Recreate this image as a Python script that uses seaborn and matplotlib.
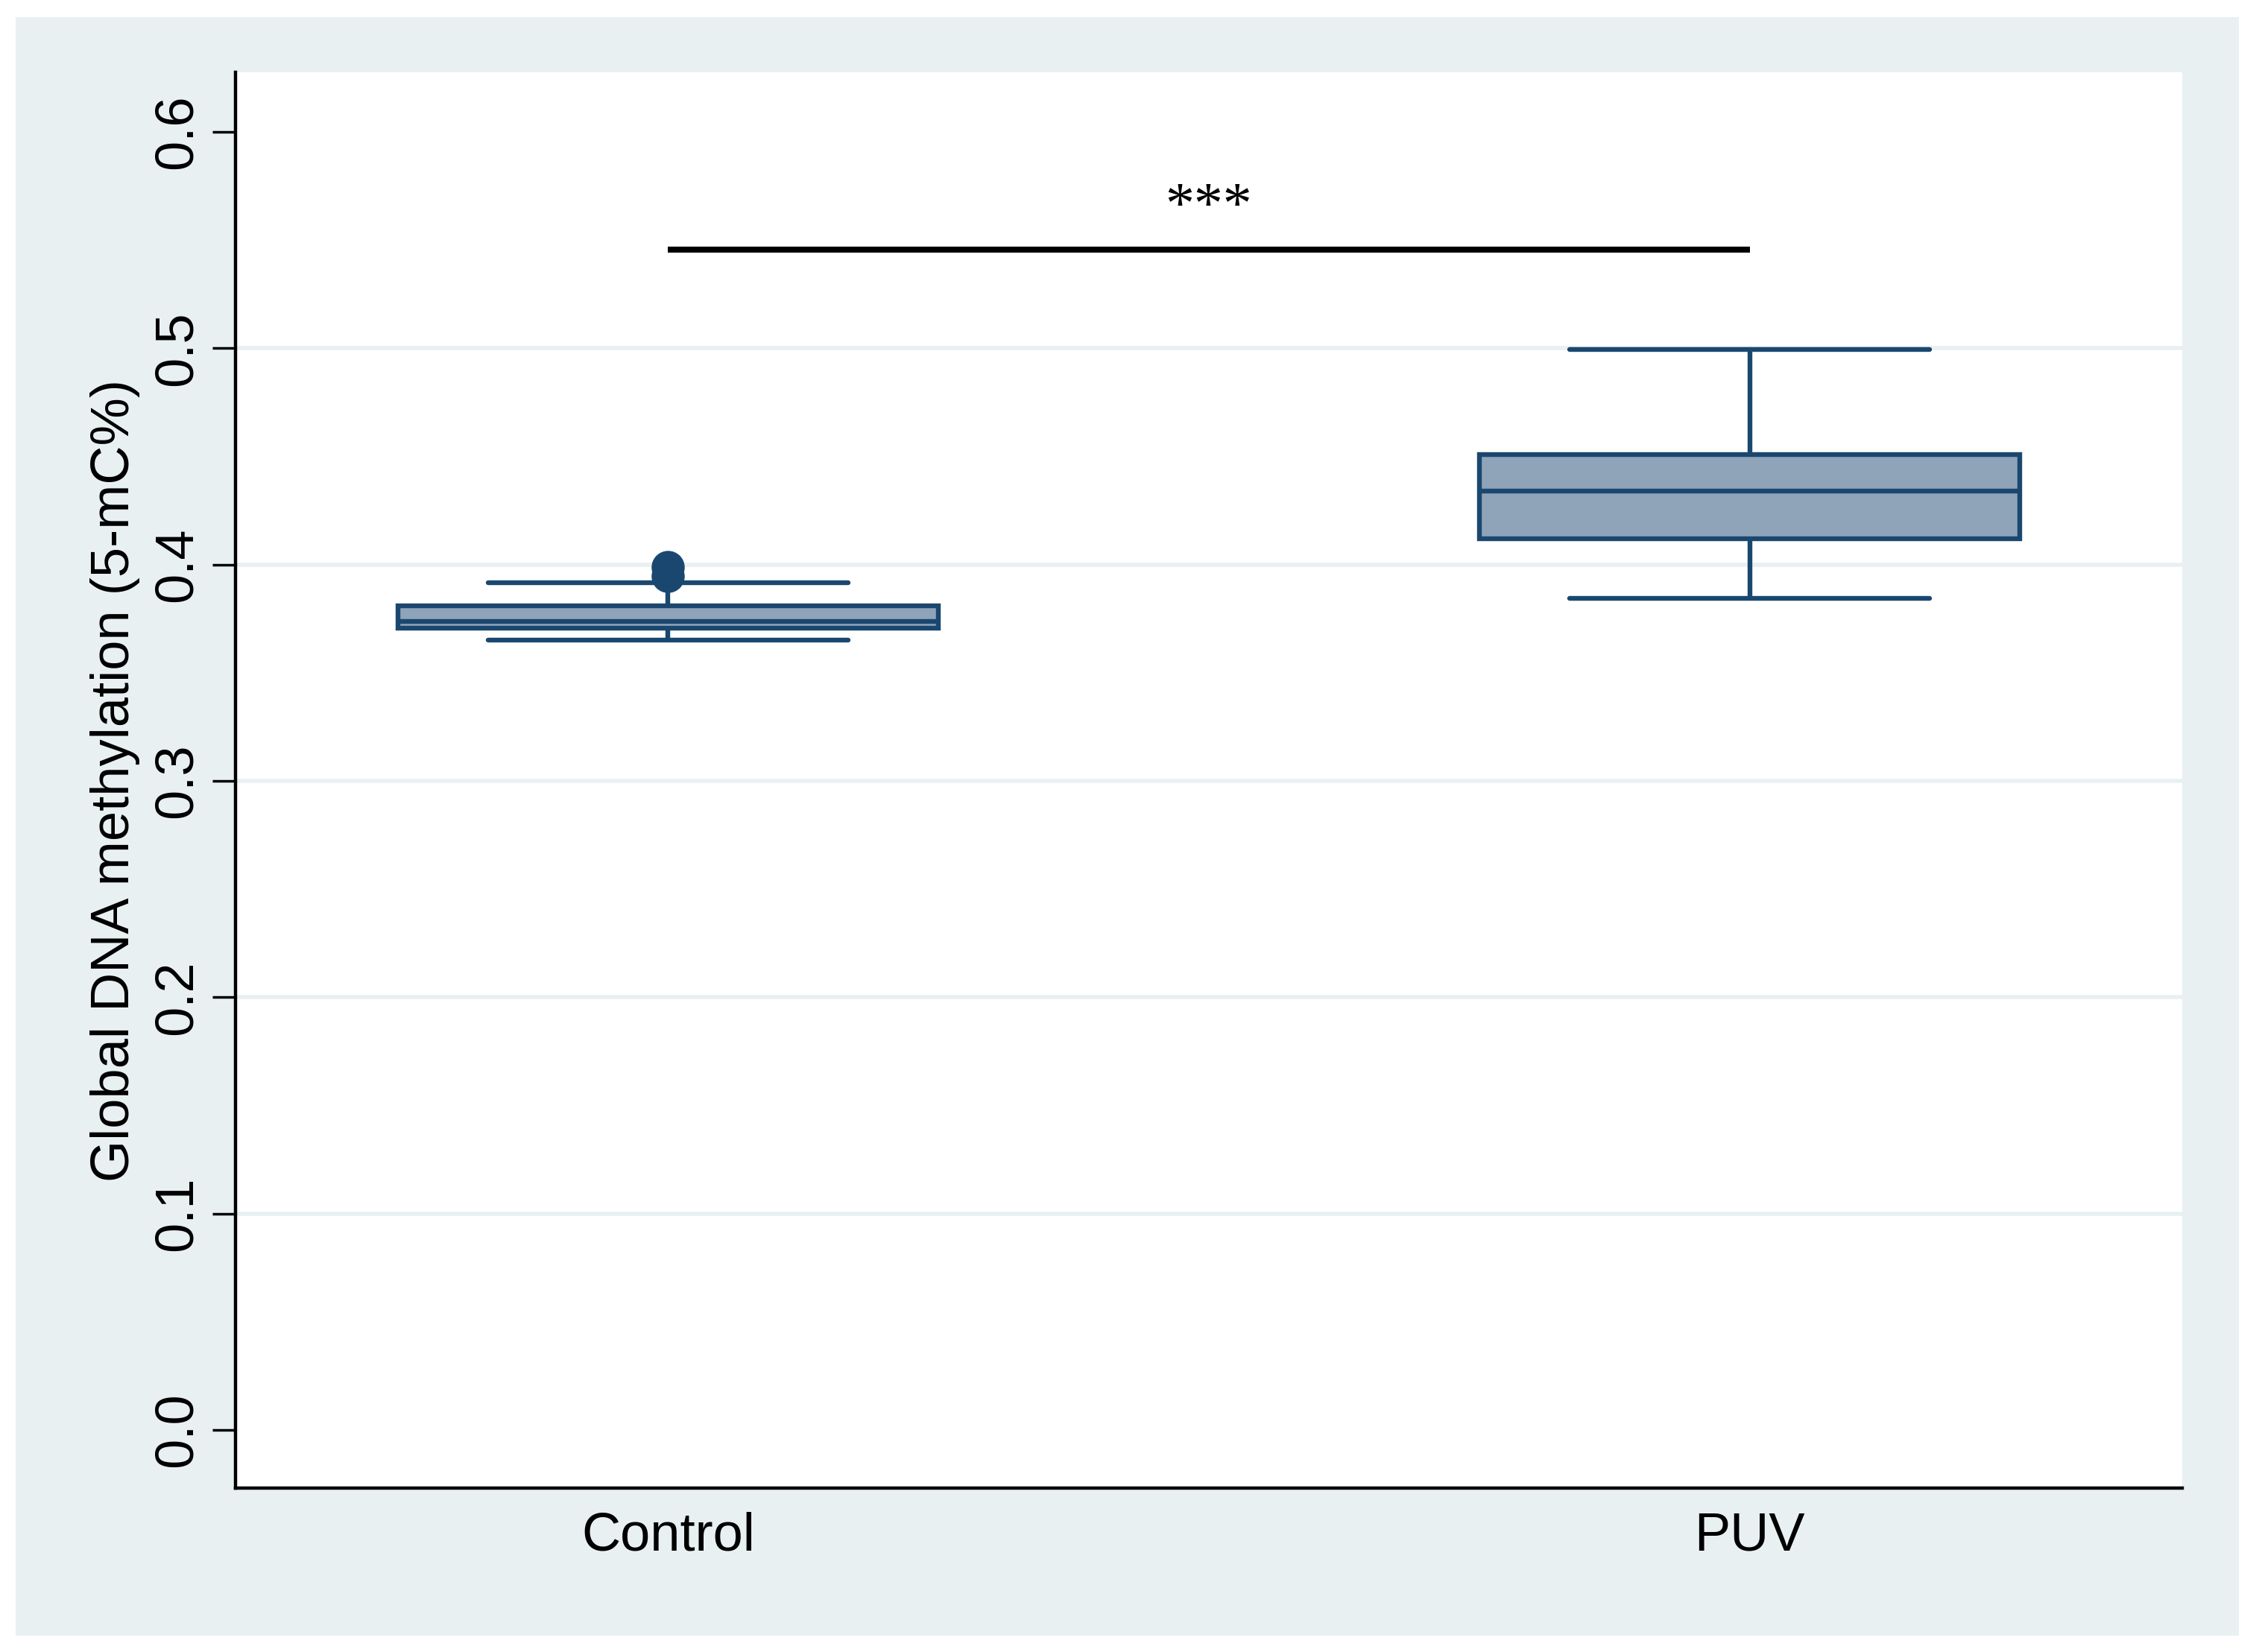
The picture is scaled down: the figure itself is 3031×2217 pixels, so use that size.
import matplotlib
matplotlib.use("Agg")
import matplotlib.pyplot as plt
from matplotlib.patches import Rectangle
import numpy as np
import pandas as pd
import seaborn as sns

# values (5-number summaries + outliers)
groups = ["Control", "PUV"]
control_vals = [0.3651, 0.3672, 0.3690, 0.3706, 0.3715, 0.3728, 0.3737,
                0.3758, 0.3784, 0.3809, 0.3916, 0.3946, 0.3990]
puv_vals = [0.3843, 0.3985, 0.4119, 0.4240, 0.4339, 0.4420, 0.4509,
            0.4720, 0.4994]
y_ticks = [0.0, 0.1, 0.2, 0.3, 0.4, 0.5, 0.6]
sig_y = 0.5456
sig_label = "***"

navy = "#1a476f"
box_fill = "#8fa3b9"
panel = "#e8f0f2"

df = pd.DataFrame({
    "group": [groups[0]] * len(control_vals) + [groups[1]] * len(puv_vals),
    "value": control_vals + puv_vals,
})

sns.set_theme(style="white")
plt.rcParams["font.family"] = ["Liberation Sans", "DejaVu Sans"]

W, H = 3031, 2217
fig = plt.figure(figsize=(W / 100, H / 100), dpi=100, facecolor="white")
fig.patches.append(Rectangle((21 / W, 1 - 2195 / H), (3004 - 21) / W, (2195 - 23) / H,
                             transform=fig.transFigure, facecolor=panel,
                             edgecolor="none", zorder=-1))
ax = fig.add_axes([316 / W, 1 - 1997 / H, (2928 - 316) / W, (1997 - 97) / H])
ax.set_facecolor("white")

sns.boxplot(data=df, x="group", y="value", order=groups, ax=ax,
            color=box_fill, linecolor=navy, saturation=1, linewidth=4.6,
            width=0.5, whis=1.28, capwidths=1 / 3, fliersize=31,
            flierprops=dict(marker="o", markerfacecolor=navy, markeredgecolor=navy))

ax.plot([0, 1], [sig_y, sig_y], color="black", lw=5.8, solid_capstyle="butt")
ax.text(0.5, 0.5585, sig_label, ha="center", va="baseline", fontsize=56,
        family=["Liberation Serif", "DejaVu Serif"], color="black")

ax.set_xlim(-0.4, 1.4)
ax.set_ylim(-0.0269, 0.6276)
ax.set_yticks(y_ticks)
ax.set_yticklabels([f"{t:.1f}" for t in y_ticks], rotation=90, va="center")
ax.tick_params(axis="y", length=22, width=2.5, pad=10, labelsize=52, left=True,
               colors="black")
ax.tick_params(axis="x", length=0, pad=23, labelsize=52, colors="black")

ax.yaxis.grid(True, color=panel, linewidth=4)
ax.set_axisbelow(True)
for gl, t in zip(ax.get_ygridlines(), y_ticks):
    if t in (y_ticks[0], y_ticks[-1]):
        gl.set_visible(False)

ax.set_xlabel("")
ax.set_ylabel("Global DNA methylation (5-mC%)", fontsize=52, color="black")
ax.yaxis.set_label_coords(-0.049, 0.5)

for side in ["top", "right"]:
    ax.spines[side].set_visible(False)
for side in ["left", "bottom"]:
    ax.spines[side].set_color("black")
    ax.spines[side].set_linewidth(3.2)

fig.savefig("out.png", dpi=100, facecolor="white")
